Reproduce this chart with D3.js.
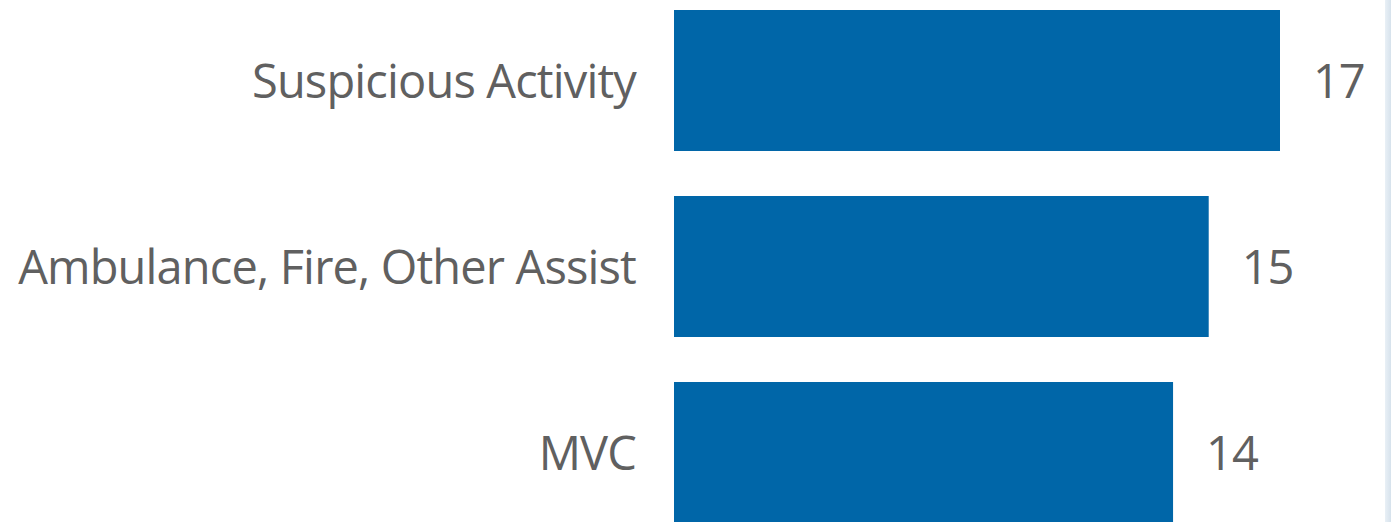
<!DOCTYPE html>
<html lang="en">
<head>
  <meta charset="UTF-8">
  <title>Call Types</title>
  <script src="https://d3js.org/d3.v7.min.js"></script>
  <style>
    body, html {
      margin: 0;
      background-color: #ffffff;
      font-family: 'Open Sans', sans-serif;
      overflow: hidden;
    }
  </style>
</head>
<body>
<svg id="chart" width="1391" height="522"></svg>
<script>
  const categories = ["Suspicious Activity", "Ambulance, Fire, Other Assist", "MVC"];
  const values = [17, 15, 14];

  const svg = d3.select("#chart");
  const left = 674;

  const x = d3.scaleLinear().domain([0, 17]).range([left, 1280]);
  const y = d3.scaleBand().domain(categories).range([10, 523]).paddingInner(0.242).paddingOuter(0);

  // light strip at the right edge
  const grad = svg.append("defs").append("linearGradient").attr("id", "edge");
  grad.append("stop").attr("offset", "0%").attr("stop-color", "#e9f0f6");
  grad.append("stop").attr("offset", "100%").attr("stop-color", "#d6e2ec");
  svg.append("rect")
    .attr("x", 1385).attr("y", 0).attr("width", 6).attr("height", 522)
    .attr("fill", "url(#edge)");

  svg.selectAll(".bar")
    .data(values)
    .join("rect")
    .attr("class", "bar")
    .attr("x", x(0))
    .attr("y", (d, i) => y(categories[i]))
    .attr("width", d => x(d) - x(0))
    .attr("height", y.bandwidth())
    .attr("fill", "#0066a8");

  svg.selectAll(".cat")
    .data(categories)
    .join("text")
    .attr("class", "cat")
    .attr("x", 636)
    .attr("y", d => y(d) + y.bandwidth() / 2 + 17.5)
    .attr("text-anchor", "end")
    .attr("fill", "#606060")
    .style("font-size", "47px")
    .style("letter-spacing", "-0.85px")
    .text(d => d);

  svg.selectAll(".val")
    .data(values)
    .join("text")
    .attr("class", "val")
    .attr("x", d => x(d) + 33)
    .attr("y", (d, i) => y(categories[i]) + y.bandwidth() / 2 + 17.5)
    .attr("fill", "#606060")
    .style("font-size", "47px")
    .style("letter-spacing", "-1px")
    .text(d => d);
</script>
</body>
</html>
